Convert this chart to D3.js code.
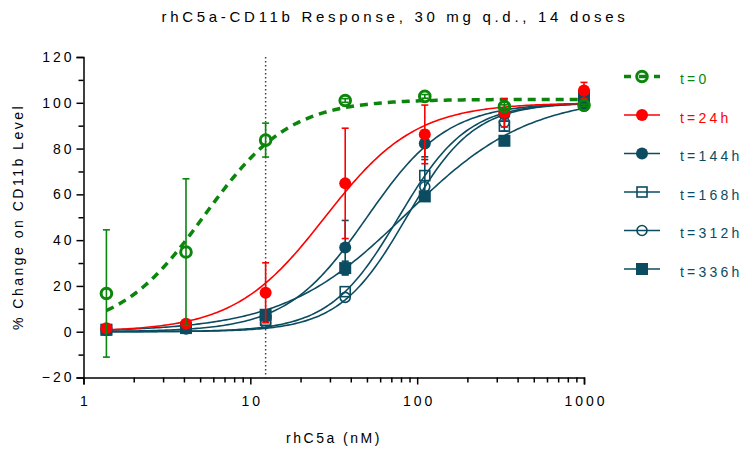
<!DOCTYPE html>
<html>
<head>
<meta charset="utf-8">
<script src="https://cdn.jsdelivr.net/npm/d3@7"></script>
<style>
  body { margin: 0; background: #fff; }
  text { font-family: "Liberation Sans", Arial, sans-serif; }
</style>
</head>
<body>
<svg id="chart"></svg>
<script>
// concentrations (nM), 3-fold dilutions
const doses = [1.372, 4.115, 12.35, 37.04, 111.1, 333.3, 1000]

const seriesNames = ['t=0', 't=24h', 't=144h', 't=168h', 't=312h', 't=336h']

// mean % change
const t0Values = [16.7, 34.8, 83.7, 101.0, 102.8, 98.3, 98.9]
const t24Values = [1.5, 3.5, 17.0, 64.8, 86.2, 95.6, 105.4]
const t144Values = [0.8, 1.6, 6.5, 36.8, 82.2, 95.0, 98.6]
const t168Values = [0.8, 1.5, 5.0, 17.5, 68.2, 89.8, 103.4]
const t312Values = [0.6, 1.2, 3.8, 15.0, 63.3, 91.5, 101.5]
const t336Values = [0.9, 1.8, 7.4, 27.8, 59.1, 83.4, 102.5]

// error bar half-heights (SD)
const t0Err = [27.8, 32.0, 7.4, 0.8, 0.8, 0.8, 0.5]
const t24Err = [0.5, 0.8, 13.1, 24.1, 12.8, 6.2, 3.5]
const t144Err = [0, 0, 0, 11.8, 5.8, 0, 0]
const t168Err = [0, 0, 0, 0, 7.0, 2.2, 0]
const t312Err = [0, 0, 0, 0, 0, 0, 0]
const t336Err = [0, 0, 0, 3.0, 0, 0, 0]

// 4-parameter logistic fits: bottom, top, EC50, hill
const t0Fit = [0, 101.5, 5.3, 1.7]
const t24Fit = [0, 100, 28, 1.6]
const t144Fit = [0, 100, 50, 1.8]
const t168Fit = [0, 100, 77.4, 2.1]
const t312Fit = [0, 100, 86.4, 2.15]
const t336Fit = [0, 103, 86.3, 1.18]

const yTicks = [-20, 0, 20, 40, 60, 80, 100, 120]
const xTicks = [1, 10, 100, 1000]
const refDose = 12.35

const green = '#0b850b'
const red = '#ff0000'
const teal = '#0b4c60'

const series = [
  { name: seriesNames[5], values: t336Values, err: t336Err, fit: t336Fit, color: teal, shape: 'square', filled: true },
  { name: seriesNames[4], values: t312Values, err: t312Err, fit: t312Fit, color: teal, shape: 'circle', filled: false },
  { name: seriesNames[3], values: t168Values, err: t168Err, fit: t168Fit, color: teal, shape: 'square', filled: false },
  { name: seriesNames[2], values: t144Values, err: t144Err, fit: t144Fit, color: teal, shape: 'circle', filled: true },
  { name: seriesNames[1], values: t24Values, err: t24Err, fit: t24Fit, color: red, shape: 'circle', filled: true },
  { name: seriesNames[0], values: t0Values, err: t0Err, fit: t0Fit, color: green, shape: 'circle', filled: false, dashed: true }
]

const width = 749
const height = 450

const svg = d3.select('svg#chart')
  .attr('width', width)
  .attr('height', height)

const x = d3.scaleLog().domain([1, 1000]).range([83.5, 584])
const y = d3.scaleLinear().domain([-20, 120]).range([377.5, 57])

// title
svg.append('text')
  .attr('x', 395)
  .attr('y', 22)
  .attr('text-anchor', 'middle')
  .style('font-size', '15px')
  .style('letter-spacing', '3.7px')
  .text('rhC5a-CD11b Response, 30 mg q.d., 14 doses')

// reference line
svg.append('line')
  .attr('x1', x(refDose)).attr('x2', x(refDose))
  .attr('y1', y(120)).attr('y2', y(-20))
  .attr('stroke', '#444')
  .attr('stroke-width', 1.5)
  .attr('stroke-dasharray', '1.5,2.5')

// axes
const minorY = d3.range(-20, 121, 10).filter(v => v % 20 !== 0)
const minorX = []
for (let d = 1; d < 1000; d *= 10) {
  for (let k = 2; k < 10; k++) minorX.push(d * k)
}

const yAxis = svg.append('g')
  .attr('transform', `translate(${x(1)},0)`)
  .call(d3.axisLeft(y).tickValues(yTicks).tickSize(7).tickPadding(5).tickFormat(d3.format('d')))
svg.append('g')
  .attr('transform', `translate(${x(1)},0)`)
  .call(d3.axisLeft(y).tickValues(minorY).tickSize(5).tickFormat(''))
  .select('.domain').remove()

const xAxis = svg.append('g')
  .attr('transform', `translate(0,${y(-20)})`)
  .call(d3.axisBottom(x).tickValues(xTicks).tickSize(7).tickPadding(12).tickFormat(d3.format('d')))
svg.append('g')
  .attr('transform', `translate(0,${y(-20)})`)
  .call(d3.axisBottom(x).tickValues(minorX).tickSize(5).tickFormat(''))
  .select('.domain').remove()

svg.selectAll('.domain, .tick line')
  .attr('stroke', '#000')
  .attr('stroke-width', 1.5)
svg.selectAll('.tick text')
  .attr('fill', '#000')
  .style('font-family', '"Liberation Sans", Arial, sans-serif')
  .style('font-size', '14px')
  .style('letter-spacing', '3px')
yAxis.selectAll('.tick text').attr('dx', '3px')
xAxis.selectAll('.tick text').attr('dx', '1.5px')

// axis titles
svg.append('text')
  .attr('x', 334)
  .attr('y', 443)
  .attr('text-anchor', 'middle')
  .style('font-size', '14px')
  .style('letter-spacing', '2.5px')
  .text('rhC5a (nM)')

svg.append('text')
  .attr('transform', 'translate(23,217) rotate(-90)')
  .attr('text-anchor', 'middle')
  .style('font-size', '14px')
  .style('letter-spacing', '2.5px')
  .text('% Change on CD11b Level')

// fitted curves
const logistic = (p, c) => p[0] + (p[1] - p[0]) / (1 + Math.pow(p[2] / c, p[3]))
const curveX = d3.range(0, 201).map(i => Math.pow(10, Math.log10(doses[0]) + i / 200 * (3 - Math.log10(doses[0]))))
const line = d3.line().x(d => x(d[0])).y(d => y(d[1]))

const plot = svg.append('g')

series.forEach(s => {
  plot.append('path')
    .datum(curveX.map(c => [c, logistic(s.fit, c)]))
    .attr('d', line)
    .attr('fill', 'none')
    .attr('stroke', s.color)
    .attr('stroke-width', s.dashed ? 3.5 : 1.6)
    .attr('stroke-dasharray', s.dashed ? '8,6' : null)
})

function drawMarker(g, s, cx, cy) {
  if (s.shape === 'circle') {
    g.append('circle')
      .attr('cx', cx).attr('cy', cy)
      .attr('r', s.dashed ? 5.3 : (s.filled ? 6 : 5))
      .attr('fill', s.filled ? s.color : 'none')
      .attr('stroke', s.color)
      .attr('stroke-width', s.dashed ? 3 : (s.filled ? 0 : 1.6))
  } else {
    const h = s.filled ? 6 : 5
    g.append('rect')
      .attr('x', cx - h).attr('y', cy - h)
      .attr('width', h * 2).attr('height', h * 2)
      .attr('fill', s.filled ? s.color : 'none')
      .attr('stroke', s.color)
      .attr('stroke-width', s.filled ? 0 : 1.6)
  }
}

// error bars + markers
series.forEach(s => {
  const g = plot.append('g')
  doses.forEach((d, i) => {
    const e = s.err[i]
    if (e > 0) {
      const cx = x(d)
      g.append('line')
        .attr('x1', cx).attr('x2', cx)
        .attr('y1', y(s.values[i] - e)).attr('y2', y(s.values[i] + e))
        .attr('stroke', s.color).attr('stroke-width', 1.6)
      ;[s.values[i] - e, s.values[i] + e].forEach(v => {
        g.append('line')
          .attr('x1', cx - 3.5).attr('x2', cx + 3.5)
          .attr('y1', y(v)).attr('y2', y(v))
          .attr('stroke', s.color).attr('stroke-width', 1.6)
      })
    }
  })
  doses.forEach((d, i) => drawMarker(g, s, x(d), y(s.values[i])))
})

// legend
const legend = svg.append('g')
seriesNames.forEach((name, i) => {
  const s = series.find(v => v.name === name)
  const ly = 76.5 + i * 38.5
  legend.append('line')
    .attr('x1', 624).attr('x2', 660)
    .attr('y1', ly).attr('y2', ly)
    .attr('stroke', s.color)
    .attr('stroke-width', s.dashed ? 3.5 : 1.6)
    .attr('stroke-dasharray', s.dashed ? '7,8' : null)
  drawMarker(legend, s, 642, ly)
  legend.append('text')
    .attr('x', 680)
    .attr('y', ly + 3)
    .attr('dy', '0.35em')
    .attr('fill', s.color)
    .style('font-size', '14px')
    .style('letter-spacing', '3.2px')
    .text(name)
})
</script>
</body>
</html>
